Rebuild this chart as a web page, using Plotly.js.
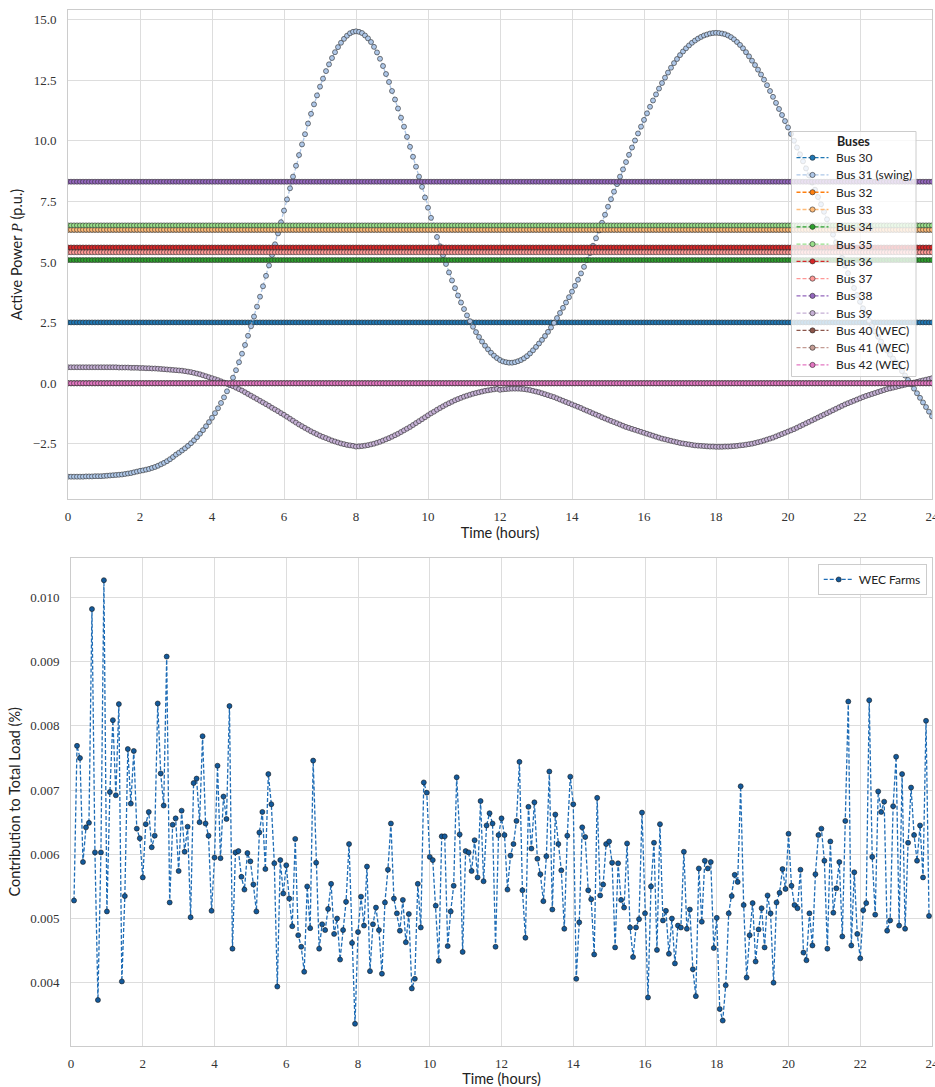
<!DOCTYPE html>
<html><head><meta charset="utf-8">
<script src="https://cdn.plot.ly/plotly-3.0.1.min.js"></script>
<style>body{margin:0;background:#fff}#chart{width:935px;height:1087px}</style>
</head><body><div id="chart"></div>
<script>
// ---------- data ----------
const busNames = ['Bus 30','Bus 31 (swing)','Bus 32','Bus 33','Bus 34','Bus 35','Bus 36','Bus 37','Bus 38','Bus 39','Bus 40 (WEC)','Bus 41 (WEC)','Bus 42 (WEC)'];
const busColors = ['#1f77b4','#aec7e8','#ff7f0e','#ffbb78','#2ca02c','#98df8a','#d62728','#ff9896','#9467bd','#c5b0d5','#8c564b','#c49c94','#e377c2'];
// constant active power of the PV / load buses (p.u.); null = time-varying series below
const busLevels = [2.51, null, 6.33, 6.33, 5.08, 6.51, 5.60, 5.40, 8.31, null, 0.0, 0.0, 0.0];

// Bus 31 (swing), every 5 min from 0 h to 24 h
const swingP = [
-3.85,-3.85,-3.85,-3.85,-3.85,-3.85,-3.84,-3.84,-3.84,-3.83,-3.83,-3.83,
-3.82,-3.81,-3.80,-3.79,-3.78,-3.77,-3.76,-3.74,-3.72,-3.70,-3.67,-3.64,
-3.61,-3.59,-3.56,-3.53,-3.49,-3.45,-3.40,-3.34,-3.28,-3.21,-3.13,-3.04,
-2.94,-2.86,-2.77,-2.68,-2.58,-2.47,-2.35,-2.22,-2.08,-1.93,-1.77,-1.60,
-1.42,-1.23,-1.03,-0.81,-0.58,-0.33,-0.06,0.23,0.54,0.87,1.22,1.58,
1.96,2.35,2.75,3.16,3.57,4.00,4.43,4.86,5.29,5.73,6.18,6.64,
7.12,7.58,8.04,8.52,8.97,9.41,9.85,10.27,10.71,11.11,11.50,11.87,
12.23,12.56,12.87,13.15,13.41,13.65,13.86,14.04,14.20,14.33,14.43,14.49,
14.51,14.49,14.44,14.34,14.22,14.07,13.87,13.64,13.38,13.08,12.75,12.42,
12.05,11.70,11.33,10.95,10.58,10.16,9.75,9.34,8.93,8.52,8.10,7.66,
7.24,6.82,6.42,6.03,5.65,5.28,4.92,4.57,4.24,3.92,3.62,3.33,
3.06,2.80,2.56,2.33,2.11,1.91,1.72,1.55,1.40,1.26,1.14,1.04,
0.96,0.90,0.87,0.85,0.85,0.87,0.91,0.96,1.03,1.12,1.23,1.36,
1.50,1.64,1.79,1.95,2.12,2.30,2.49,2.69,2.90,3.11,3.33,3.55,
3.78,4.02,4.27,4.53,4.80,5.08,5.37,5.67,5.98,6.30,6.62,6.95,
7.28,7.59,7.90,8.21,8.52,8.82,9.12,9.42,9.72,10.01,10.30,10.58,
10.86,11.13,11.40,11.66,11.91,12.15,12.38,12.60,12.81,13.01,13.20,13.37,
13.53,13.68,13.81,13.93,14.04,14.13,14.21,14.28,14.34,14.38,14.42,14.44,
14.45,14.44,14.42,14.39,14.34,14.27,14.18,14.07,13.95,13.81,13.65,13.48,
13.30,13.12,12.93,12.73,12.52,12.29,12.05,11.81,11.56,11.31,11.06,10.81,
10.55,10.28,10.00,9.72,9.44,9.15,8.86,8.57,8.28,7.98,7.68,7.38,
7.07,6.76,6.45,6.13,5.81,5.49,5.17,4.85,4.54,4.23,3.93,3.64,
3.36,3.09,2.83,2.58,2.35,2.13,1.92,1.72,1.53,1.35,1.18,1.02,
0.86,0.68,0.50,0.32,0.14,-0.04,-0.22,-0.41,-0.60,-0.79,-0.98,-1.17,
-1.36];

// Bus 39, every 5 min from 0 h to 24 h
const bus39P = [
0.66,0.66,0.66,0.66,0.66,0.66,0.66,0.66,0.66,0.66,0.66,0.66,
0.66,0.66,0.66,0.66,0.66,0.65,0.65,0.65,0.65,0.64,0.64,0.64,
0.63,0.63,0.62,0.62,0.61,0.61,0.60,0.59,0.58,0.57,0.56,0.55,
0.54,0.53,0.52,0.50,0.48,0.46,0.43,0.40,0.37,0.33,0.29,0.25,
0.21,0.17,0.13,0.08,0.03,-0.02,-0.07,-0.12,-0.18,-0.24,-0.30,-0.37,
-0.44,-0.51,-0.58,-0.65,-0.72,-0.79,-0.86,-0.93,-1.01,-1.08,-1.15,-1.23,
-1.30,-1.38,-1.46,-1.54,-1.62,-1.70,-1.77,-1.84,-1.91,-1.98,-2.04,-2.10,
-2.16,-2.21,-2.26,-2.31,-2.36,-2.40,-2.44,-2.48,-2.51,-2.54,-2.56,-2.58,
-2.61,-2.60,-2.59,-2.57,-2.55,-2.52,-2.49,-2.45,-2.41,-2.36,-2.31,-2.26,
-2.20,-2.14,-2.08,-2.01,-1.94,-1.87,-1.80,-1.72,-1.64,-1.56,-1.48,-1.40,
-1.32,-1.24,-1.17,-1.09,-1.02,-0.95,-0.88,-0.82,-0.76,-0.70,-0.65,-0.60,
-0.55,-0.51,-0.47,-0.43,-0.40,-0.37,-0.34,-0.31,-0.29,-0.27,-0.25,-0.23,
-0.27,-0.25,-0.24,-0.23,-0.22,-0.22,-0.22,-0.23,-0.24,-0.26,-0.28,-0.31,
-0.34,-0.37,-0.41,-0.45,-0.49,-0.53,-0.57,-0.62,-0.67,-0.72,-0.77,-0.82,
-0.87,-0.92,-0.97,-1.02,-1.08,-1.13,-1.18,-1.24,-1.29,-1.34,-1.40,-1.45,
-1.50,-1.55,-1.60,-1.65,-1.70,-1.75,-1.80,-1.84,-1.88,-1.92,-1.96,-2.00,
-2.04,-2.08,-2.12,-2.16,-2.20,-2.24,-2.28,-2.31,-2.34,-2.37,-2.40,-2.43,
-2.46,-2.48,-2.50,-2.52,-2.54,-2.56,-2.57,-2.58,-2.59,-2.60,-2.61,-2.61,
-2.62,-2.62,-2.62,-2.61,-2.61,-2.60,-2.59,-2.58,-2.56,-2.55,-2.53,-2.51,
-2.49,-2.46,-2.43,-2.40,-2.36,-2.32,-2.28,-2.24,-2.19,-2.14,-2.09,-2.04,
-1.99,-1.94,-1.89,-1.83,-1.77,-1.71,-1.65,-1.59,-1.53,-1.47,-1.41,-1.35,
-1.29,-1.23,-1.17,-1.11,-1.05,-0.99,-0.93,-0.87,-0.82,-0.77,-0.72,-0.67,
-0.62,-0.57,-0.52,-0.48,-0.44,-0.40,-0.36,-0.32,-0.28,-0.24,-0.21,-0.18,
-0.15,-0.12,-0.09,-0.06,-0.03,0.00,0.03,0.06,0.09,0.12,0.15,0.18,
0.21];

// WEC farms contribution to total load (%), every 5 min starting at 0:05
const wecContribution = [
0.00528,0.00769,0.00750,0.00588,0.00642,0.00649,0.00982,0.00603,0.00373,0.00603,
0.01027,0.00511,0.00697,0.00809,0.00692,0.00834,0.00402,0.00535,0.00764,0.00679,
0.00761,0.00640,0.00625,0.00564,0.00647,0.00666,0.00611,0.00629,0.00835,0.00726,
0.00676,0.00908,0.00525,0.00646,0.00656,0.00574,0.00668,0.00604,0.00643,0.00502,
0.00711,0.00718,0.00650,0.00784,0.00648,0.00629,0.00512,0.00595,0.00738,0.00594,
0.00690,0.00655,0.00831,0.00453,0.00603,0.00605,0.00565,0.00545,0.00602,0.00589,
0.00553,0.00511,0.00634,0.00666,0.00577,0.00725,0.00678,0.00586,0.00394,0.00591,
0.00539,0.00583,0.00531,0.00488,0.00624,0.00474,0.00456,0.00417,0.00550,0.00485,
0.00746,0.00587,0.00453,0.00491,0.00482,0.00515,0.00554,0.00476,0.00500,0.00436,
0.00482,0.00526,0.00616,0.00462,0.00336,0.00479,0.00534,0.00489,0.00581,0.00418,
0.00491,0.00517,0.00482,0.00414,0.00525,0.00576,0.00648,0.00531,0.00508,0.00481,
0.00529,0.00463,0.00507,0.00391,0.00406,0.00554,0.00486,0.00712,0.00696,0.00596,
0.00591,0.00520,0.00434,0.00628,0.00628,0.00457,0.00511,0.00551,0.00720,0.00631,
0.00448,0.00605,0.00603,0.00574,0.00622,0.00564,0.00683,0.00558,0.00645,0.00664,
0.00648,0.00456,0.00630,0.00656,0.00630,0.00545,0.00598,0.00616,0.00652,0.00744,
0.00544,0.00470,0.00674,0.00609,0.00681,0.00593,0.00569,0.00527,0.00597,0.00729,
0.00514,0.00662,0.00616,0.00575,0.00484,0.00629,0.00721,0.00678,0.00406,0.00494,
0.00642,0.00627,0.00544,0.00530,0.00444,0.00688,0.00536,0.00553,0.00616,0.00620,
0.00587,0.00455,0.00586,0.00529,0.00517,0.00617,0.00486,0.00440,0.00486,0.00499,
0.00665,0.00508,0.00377,0.00550,0.00618,0.00451,0.00647,0.00497,0.00512,0.00445,
0.00500,0.00430,0.00489,0.00486,0.00604,0.00484,0.00514,0.00421,0.00379,0.00578,
0.00495,0.00590,0.00578,0.00588,0.00454,0.00501,0.00359,0.00341,0.00396,0.00508,
0.00535,0.00568,0.00557,0.00706,0.00521,0.00408,0.00474,0.00524,0.00433,0.00483,
0.00516,0.00455,0.00536,0.00508,0.00400,0.00525,0.00540,0.00577,0.00546,0.00632,
0.00551,0.00521,0.00516,0.00576,0.00447,0.00435,0.00508,0.00458,0.00569,0.00630,
0.00640,0.00590,0.00453,0.00620,0.00509,0.00547,0.00588,0.00472,0.00652,0.00838,
0.00458,0.00572,0.00476,0.00438,0.00513,0.00524,0.00840,0.00596,0.00506,0.00698,
0.00666,0.00682,0.00481,0.00497,0.00675,0.00752,0.00489,0.00725,0.00484,0.00618,
0.00704,0.00630,0.00590,0.00645,0.00564,0.00808,0.00504];

const xTicks = [0,2,4,6,8,10,12,14,16,18,20,22,24];

// time stamps (hours), 5-minute resolution
const timeTop = swingP.map((_, i) => i / 12);
const timeBottom = wecContribution.map((_, i) => (i + 1) / 12);

// ---------- styling helpers ----------
const DASH = '4px,2px';
const EDGE = '#2a2a2a';
const sansFam = 'Lato, Open Sans, sans-serif';
const serifFam = 'Liberation Serif, DejaVu Serif, serif';

// ---------- traces ----------
const traces = busNames.map((name, k) => {
  let y;
  if (k === 1) y = swingP;
  else if (k === 9) y = bus39P;
  else y = timeTop.map(() => busLevels[k]);
  return {
    type: 'scatter', mode: 'lines+markers', name: name, showlegend: false,
    x: timeTop, y: y, xaxis: 'x', yaxis: 'y',
    line: {color: busColors[k], width: 1.3, dash: DASH},
    marker: {color: busColors[k], size: 5, line: {color: EDGE, width: 0.6}}
  };
});
traces.push({
  type: 'scatter', mode: 'lines+markers', name: 'WEC Farms', showlegend: true,
  x: timeBottom, y: wecContribution, xaxis: 'x2', yaxis: 'y2', legend: 'legend2',
  line: {color: '#1f6db6', width: 1.3, dash: DASH},
  marker: {color: '#135a9c', size: 5, line: {color: '#1a1a1a', width: 0.6}}
});

// ---------- hand-built "Buses" legend (paper coordinates from pixel layout) ----------
const ML = 68, MT = 10, PW = 864, PH = 1036;
const xp = px => (px - ML) / PW;
const yp = py => 1 - (py - MT) / PH;
const legBox = {left: 791.5, right: 916, top: 131.5, bottom: 376.5};
const legRow0 = 157.7, legRowGap = 17.27;
const legLine = [796.5, 828.5], legMark = 812.5, legText = 834, markR = 2.6;

const shapes = [{
  type: 'rect', xref: 'paper', yref: 'paper', layer: 'above',
  x0: xp(legBox.left), x1: xp(legBox.right), y0: yp(legBox.bottom), y1: yp(legBox.top),
  fillcolor: 'rgba(255,255,255,0.8)', line: {color: '#cccccc', width: 1}
}];
const annotations = [{
  xref: 'paper', yref: 'paper', x: xp((legBox.left + legBox.right) / 2), y: yp(141.5),
  xanchor: 'center', yanchor: 'middle', showarrow: false,
  text: '<b>Buses</b>', font: {family: sansFam, size: 12.5, color: '#222'}
}];
busNames.forEach((name, k) => {
  const ry = legRow0 + k * legRowGap;
  shapes.push({
    type: 'line', xref: 'paper', yref: 'paper', layer: 'above',
    x0: xp(legLine[0]), x1: xp(legLine[1]), y0: yp(ry), y1: yp(ry),
    line: {color: busColors[k], width: 1.3, dash: DASH}
  });
  shapes.push({
    type: 'circle', xref: 'paper', yref: 'paper', layer: 'above',
    x0: xp(legMark - markR), x1: xp(legMark + markR), y0: yp(ry + markR), y1: yp(ry - markR),
    fillcolor: busColors[k], line: {color: EDGE, width: 0.6}
  });
  annotations.push({
    xref: 'paper', yref: 'paper', x: xp(legText), y: yp(ry),
    xanchor: 'left', yanchor: 'middle', showarrow: false,
    text: name, font: {family: sansFam, size: 12, color: '#222'}
  });
});

const tickFont = {family: serifFam, size: 13, color: '#333'};
const titleFont = {family: sansFam, size: 14.5, color: '#222'};
const axBase = {
  showgrid: true, gridcolor: '#dddddd', gridwidth: 1,
  showline: true, mirror: true, linecolor: '#cccccc', linewidth: 1,
  zeroline: false, ticks: '', tickfont: tickFont
};

const layout = {
  width: 935, height: 1087,
  margin: {l: ML, r: 3, t: MT, b: 41},
  paper_bgcolor: '#ffffff', plot_bgcolor: '#ffffff',
  showlegend: true,
  shapes: shapes, annotations: annotations,
  xaxis: Object.assign({}, axBase, {
    domain: [0, 1], anchor: 'y', range: [0, 24], tickvals: xTicks, ticktext: xTicks.map(String),
    ticklabelstandoff: 5, ticklabeloverflow: 'allow',
    title: {text: 'Time (hours)', font: titleFont, standoff: 3}
  }),
  yaxis: Object.assign({}, axBase, {
    domain: [0.528, 1], anchor: 'x', range: [-4.77, 15.39], tick0: 0, dtick: 2.5, tickformat: '.1f',
    ticklabelstandoff: 8,
    title: {text: 'Active Power <span style="font-family:Liberation Serif, serif"><i>P</i></span> (p.u.)', font: titleFont, standoff: 6}
  }),
  xaxis2: Object.assign({}, axBase, {
    domain: [0.0035, 1], anchor: 'y2', range: [0, 24], tickvals: xTicks, ticktext: xTicks.map(String),
    ticklabelstandoff: 5, ticklabeloverflow: 'allow',
    title: {text: 'Time (hours)', font: titleFont, standoff: 5}
  }),
  yaxis2: Object.assign({}, axBase, {
    domain: [0, 0.4713], anchor: 'x2', range: [0.003014, 0.01062], tick0: 0, dtick: 0.001, tickformat: '.3f',
    ticklabelstandoff: 8,
    title: {text: 'Contribution to Total Load (%)', font: titleFont, standoff: 6}
  }),
  legend2: {
    x: 0.9939, y: 0.4653, xanchor: 'right', yanchor: 'top',
    bgcolor: 'rgba(255,255,255,0.85)', bordercolor: '#cccccc', borderwidth: 1,
    font: {family: sansFam, size: 12, color: '#222'},
    itemwidth: 30
  }
};

Plotly.newPlot('chart', traces, layout, {staticPlot: true, displayModeBar: false});
</script>
</body></html>
